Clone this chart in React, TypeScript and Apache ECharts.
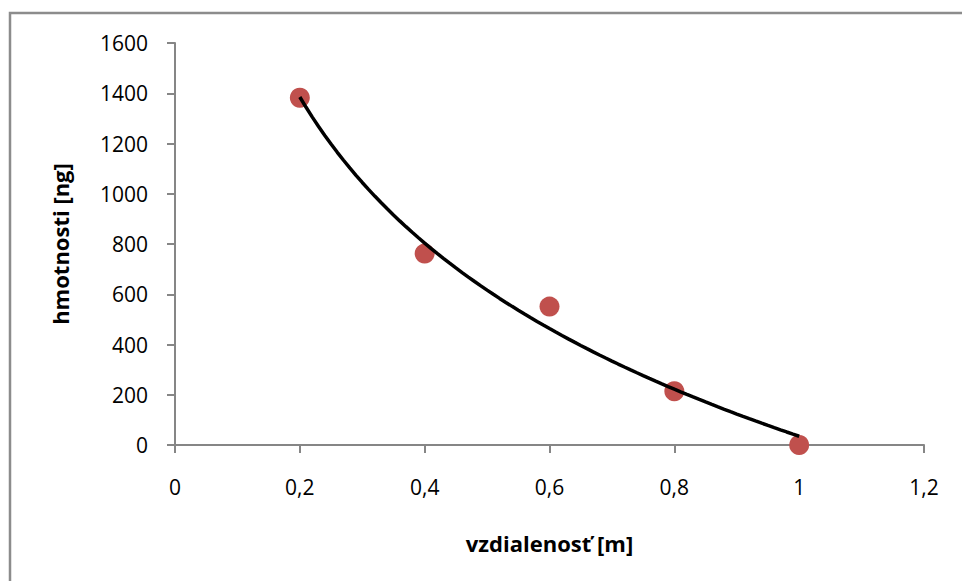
import React, { useEffect, useRef } from "react";
import * as echarts from "echarts";

const distances = [0.2, 0.4, 0.6, 0.8, 1.0];
const masses = [1382, 762, 551, 214, 0];
const xTitle = "vzdialenosť [m]";
const yTitle = "hmotnosti [ng]";

// logarithmic trendline (least squares fit y = a ln x + b), computed from the data
function logFit(xs: number[], ys: number[]) {
  const lx = xs.map((v) => Math.log(v));
  const n = xs.length;
  const mx = lx.reduce((s, v) => s + v, 0) / n;
  const my = ys.reduce((s, v) => s + v, 0) / n;
  let sxy = 0;
  let sxx = 0;
  for (let i = 0; i < n; i++) {
    sxy += (lx[i] - mx) * (ys[i] - my);
    sxx += (lx[i] - mx) * (lx[i] - mx);
  }
  const a = sxy / sxx;
  const b = my - a * mx;
  return (x: number) => a * Math.log(x) + b;
}

export default function App() {
  const ref = useRef<HTMLDivElement>(null);
  useEffect(() => {
    if (!ref.current) return;
    const chart = echarts.init(ref.current, undefined, { renderer: "svg" });
    const f = logFit(distances, masses);
    const xMin = Math.min(...distances);
    const xMax = Math.max(...distances);
    const trend: number[][] = [];
    const steps = 80;
    for (let i = 0; i <= steps; i++) {
      const x = xMin + ((xMax - xMin) * i) / steps;
      trend.push([x, f(x)]);
    }
    const font = "'Open Sans', sans-serif";
    chart.setOption({
      animation: false,
      backgroundColor: "#ffffff",
      grid: { left: 175, right: 38, top: 43, bottom: 136 },
      xAxis: {
        type: "value",
        min: 0,
        max: 1.2,
        interval: 0.2,
        name: xTitle,
        nameLocation: "middle",
        nameGap: 87,
        nameTextStyle: { fontFamily: font, fontSize: 22, fontWeight: "bold", color: "#000" },
        axisLine: { show: true, lineStyle: { color: "#868686", width: 2 } },
        axisTick: { show: true, inside: false, length: 8, lineStyle: { color: "#868686", width: 2 } },
        splitLine: { show: false },
        axisLabel: {
          fontFamily: font,
          fontSize: 21,
          color: "#000",
          margin: 31,
          formatter: (v: number) => String(Math.round(v * 10) / 10).replace(".", ","),
        },
      },
      yAxis: {
        type: "value",
        min: 0,
        max: 1600,
        interval: 200,
        name: yTitle,
        nameLocation: "middle",
        nameGap: 104,
        nameRotate: 90,
        nameTextStyle: { fontFamily: font, fontSize: 22, fontWeight: "bold", color: "#000" },
        axisLine: { show: true, lineStyle: { color: "#868686", width: 2 } },
        axisTick: { show: true, inside: false, length: 8, lineStyle: { color: "#868686", width: 2 } },
        splitLine: { show: false },
        axisLabel: {
          fontFamily: font,
          fontSize: 21,
          color: "#000",
          margin: 27,
          formatter: (v: number) => String(v),
        },
      },
      graphic: [
        {
          type: "rect",
          shape: { x: 10, y: 13, width: 1000, height: 1000 },
          style: { fill: "none", stroke: "#8c8c8c", lineWidth: 2.5 },
          silent: true,
        },
      ],
      series: [
        {
          type: "scatter",
          data: distances.map((d, i) => [d, masses[i]]),
          symbol: "circle",
          symbolSize: 20,
          itemStyle: { color: "#C0504D", opacity: 1 },
          z: 2,
        },
        {
          type: "line",
          data: trend,
          showSymbol: false,
          symbol: "none",
          smooth: false,
          lineStyle: { color: "#000", width: 3.5 },
          z: 3,
        },
      ],
    });
    return () => chart.dispose();
  }, []);
  return (
    <div
      ref={ref}
      style={{ position: "fixed", left: 0, top: 0, width: 962, height: 581 }}
    />
  );
}
